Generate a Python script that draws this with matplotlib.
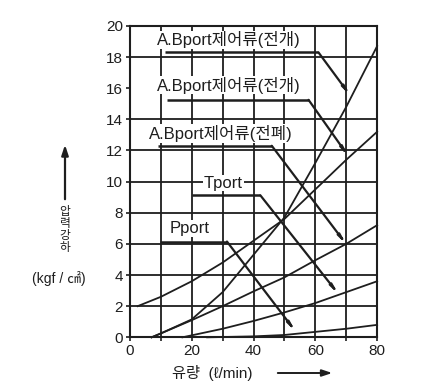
import numpy as np
import matplotlib
matplotlib.use('Agg')
import matplotlib.pyplot as plt

plt.rcParams['font.family'] = ['Liberation Sans', 'Noto Sans CJK KR', 'DejaVu Sans']

# pressure drop curves (flow l/min, drop kgf/cm2)
flow_a = [2.5, 10, 20, 30, 40, 50, 60, 70, 80]
drop_a = [2.0, 2.6, 3.6, 4.8, 6.2, 7.6, 9.5, 11.4, 13.2]
flow_b = [7, 10, 20, 30, 40, 50, 60, 70, 80]
drop_b = [0.0, 0.25, 1.15, 2.9, 5.3, 7.7, 11.2, 14.8, 18.7]
flow_c = [7, 10, 20, 30, 40, 50, 60, 70, 80]
drop_c = [0.0, 0.25, 1.1, 2.0, 2.95, 3.85, 4.95, 6.0, 7.2]
flow_d = [17, 30, 40, 50, 60, 70, 80]
drop_d = [0.0, 0.55, 1.05, 1.6, 2.2, 2.9, 3.6]
flow_e = [25, 40, 50, 60, 70, 80]
drop_e = [0.0, 0.06, 0.15, 0.35, 0.55, 0.8]

# callout labels and their leader lines (start, corner, end)
labels = ['A.Bport제어류(전개)', 'A.Bport제어류(전개)', 'A.Bport제어류(전폐)', 'Tport', 'Pport']
label_x = [32, 32, 29.5, 30.3, 19.2]
label_y = [19.1, 16.2, 13.1, 9.9, 7.0]
leader_x = [[11.3, 61.0, 71.4], [11.9, 57.8, 70.8], [9.2, 45.9, 70.1],
            [20.0, 42.2, 67.6], [9.7, 31.4, 53.7]]
leader_y = [[18.3, 18.3, 15.5], [15.25, 15.25, 11.6], [12.3, 12.3, 5.95],
            [9.12, 9.12, 2.75], [6.15, 6.15, 0.35]]

grid_x = [10, 20, 30, 40, 50, 60, 70]
grid_y = [2, 4, 6, 8, 10, 12, 14, 18]

ylabel_chars = ['압', '력', '강', '하']

ink = '#1e1e1e'

fig = plt.figure(figsize=(4.36, 3.92), dpi=100)
ax = fig.add_axes([0.298, 0.1395, 0.567, 0.7945])
ax.set_xlim(0, 80)
ax.set_ylim(0, 20)

for gx in grid_x:
    ax.axvline(gx, color=ink, lw=1.3, zorder=1)
for gy in grid_y:
    ax.axhline(gy, color=ink, lw=1.3, zorder=1)

for fx, dy in [(flow_a, drop_a), (flow_b, drop_b), (flow_c, drop_c),
               (flow_d, drop_d), (flow_e, drop_e)]:
    ax.plot(fx, dy, color=ink, lw=1.3, zorder=2, clip_on=False)

for txt, tx, ty, lx, ly in zip(labels, label_x, label_y, leader_x, leader_y):
    ax.text(tx, ty, txt, fontsize=12, ha='center', va='center', color=ink, zorder=3,
            bbox=dict(boxstyle='square,pad=0.05', fc='white', ec='none'))
    ax.plot(lx[:2], ly[:2], color=ink, lw=1.8, zorder=4, solid_capstyle='butt')
    ax.annotate('', xy=(lx[2], ly[2]), xytext=(lx[1], ly[1]), zorder=4,
                arrowprops=dict(arrowstyle='-|>,head_length=0.45,head_width=0.07',
                                color=ink, lw=1.6, shrinkA=0, shrinkB=0))

for s in ax.spines.values():
    s.set_linewidth(1.5)
    s.set_color(ink)

ax.set_xticks([0, 20, 40, 60, 80])
ax.set_xticks([10, 30, 50, 70], minor=True)
ax.set_yticks(np.arange(0, 21, 2))
ax.tick_params(which='both', direction='out', length=3, width=1.2, color=ink,
               labelsize=11, labelcolor=ink, pad=2)

# axis titles drawn by hand: stacked Korean on the left, arrows
fig.text(172 / 436, 1 - 373 / 392, '유량  (ℓ/min)', fontsize=11, color=ink,
         ha='left', va='center')
fig.add_artist(matplotlib.patches.FancyArrowPatch(
    (275 / 436, 1 - 373 / 392), (335 / 436, 1 - 373 / 392), transform=fig.transFigure,
    arrowstyle='-|>,head_length=6,head_width=2', color=ink, lw=1.4))

fig.add_artist(matplotlib.patches.FancyArrowPatch(
    (65 / 436, 1 - 202 / 392), (65 / 436, 1 - 142 / 392), transform=fig.transFigure,
    arrowstyle='-|>,head_length=6,head_width=2', color=ink, lw=1.6))
for i, ch in enumerate(ylabel_chars):
    fig.text(65 / 436, 1 - (212 + 12 * i) / 392, ch, fontsize=8.5, color=ink,
             ha='center', va='center')
fig.text(59 / 436, 1 - 278 / 392, '(kgf / ㎠)', fontsize=10, color=ink,
         ha='center', va='center')

fig.savefig('out.png', dpi=100)
